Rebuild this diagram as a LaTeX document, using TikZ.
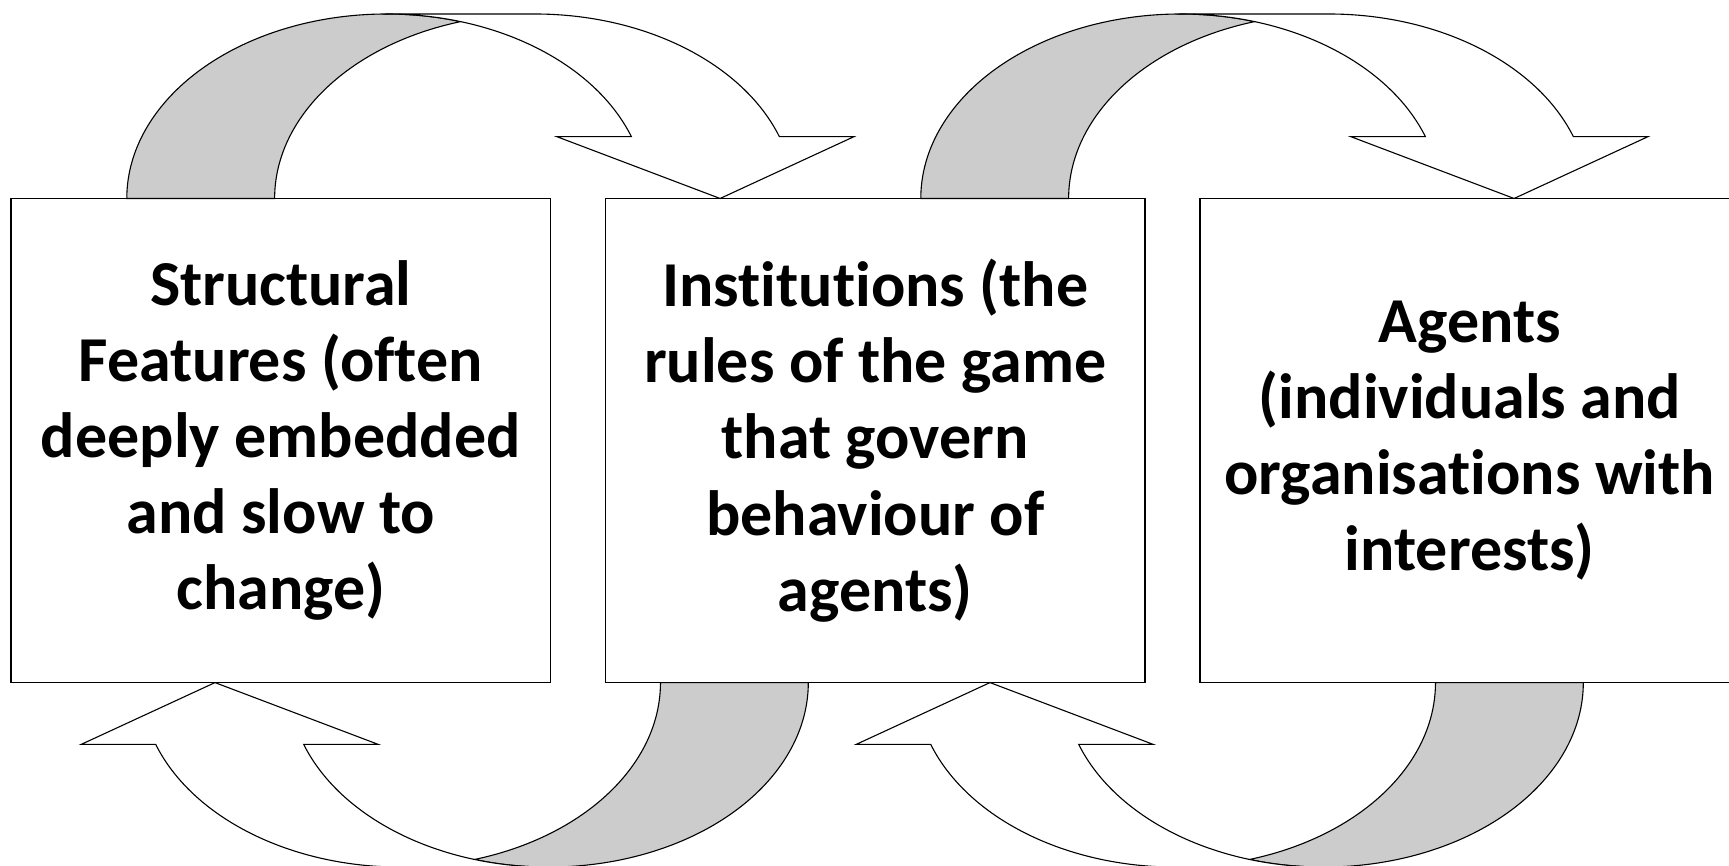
\documentclass[tikz,border=0pt]{standalone}
\usepackage{fontspec}
\setmainfont{Carlito}[Ligatures=NoCommon]
\definecolor{bandgray}{gray}{0.8}
\begin{document}
\begin{tikzpicture}[x=1pt,y=1pt,
  box/.style={draw,line width=1.4pt,fill=white,minimum width=539.5pt,
    minimum height=484pt,inner sep=0pt,align=center,
    font=\bfseries\fontsize{64}{76.2}\selectfont,
    execute at begin node={\rule{0pt}{68pt}}},
  backband/.style={fill=bandgray,draw,line width=1.1pt},
  frontband/.style={fill=white,draw,line width=1.1pt}]
\useasboundingbox (0,0) rectangle (1729,866);
\clip (0,0) rectangle (1729,866);
\node[box] (struct) at (280.75,425.45)
  {Structural\\Features (often\\deeply embedded\\and slow to\\change)};
\node[box] (inst) at (875.25,425.45)
  {Institutions (the\\rules of the game\\that govern\\behaviour of\\agents)};
\node[box] (agents) at (1469.75,425.45)
  {Agents\\(individuals and\\organisations with\\interests)};
% curved arrows: top row to the right, bottom row turned round
\foreach\sx/\sy/\rot in {126.8/667.5/0, 920.8/667.5/0, 808.3/183.4/180, 1583.3/183.4/180}
{
\begin{scope}[shift={(\sx,\sy)},rotate=\rot]
\draw[backband] (0,0)
   arc[start angle=180,end angle=73.47,x radius=259.8,y radius=184.5]
   arc[start angle=106.53,end angle=180,x radius=259.8,y radius=184.5] -- cycle;
\draw[frontband] (259.8,184.5) -- (407.8,184.5)
   arc[start angle=90,end angle=19.57,x radius=259.8,y radius=184.5]
   -- (727.1,61.8) -- (593.3,0) -- (430.1,61.8) -- (504.6,61.8)
   arc[start angle=19.57,end angle=90,x radius=259.8,y radius=184.5] -- cycle;
\end{scope}
}
\end{tikzpicture}
\end{document}
